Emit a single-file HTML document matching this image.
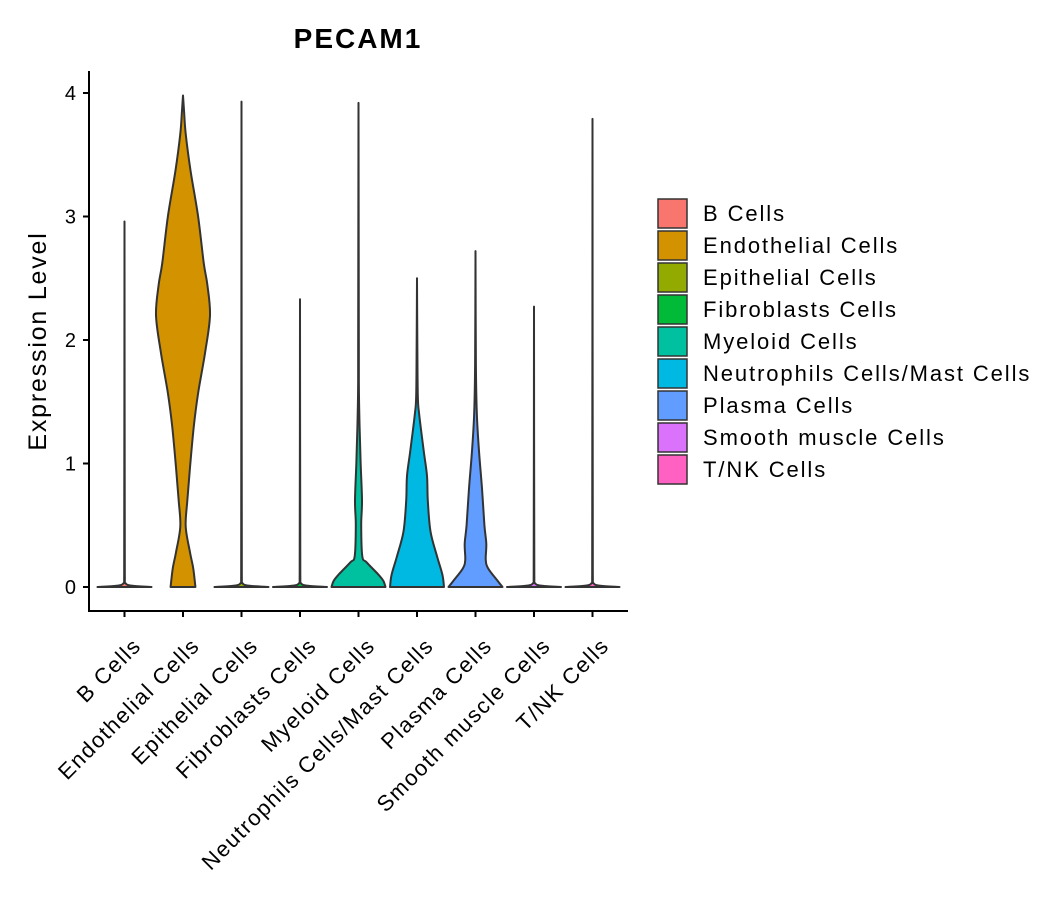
<!DOCTYPE html>
<html><head><meta charset="utf-8">
<style>
html,body{margin:0;padding:0;background:#fff;}
svg text{font-family:"Liberation Sans",sans-serif;fill:#000;}
</style></head>
<body>
<svg id="chart" width="1057" height="900" viewBox="0 0 1057 900" xmlns="http://www.w3.org/2000/svg">
<rect width="1057" height="900" fill="#fff"/>
<text x="358" y="48" text-anchor="middle" font-size="28" font-weight="bold" letter-spacing="2">PECAM1</text>
<text transform="translate(46,341) rotate(-90)" text-anchor="middle" font-size="25" letter-spacing="1.8">Expression Level</text>
<g id="plot"></g>
<g id="legend"></g>
</svg>
<script>
const categories = ["B Cells","Endothelial Cells","Epithelial Cells","Fibroblasts Cells","Myeloid Cells","Neutrophils Cells/Mast Cells","Plasma Cells","Smooth muscle Cells","T/NK Cells"];
const colors = ["#F8766D","#D39200","#93AA00","#00BA38","#00C19F","#00B9E3","#619CFF","#DB72FB","#FF61C3"];
const maxValues = [2.96,3.98,3.93,2.33,3.92,2.50,2.72,2.27,3.79];
const yTicks = [0,1,2,3,4];
// density profiles: [value, relative half-width]
const flatProfile = [[0,1.0],[0.01,0.3],[0.03,0.04],[0.1,0.012]];
const profiles = [
  flatProfile,
  [[0,0.46],[0.15,0.38],[0.28,0.26],[0.49,0.1],[0.7,0.16],[0.97,0.26],[1.3,0.4],[1.57,0.56],[1.9,0.82],[2.2,1.0],[2.45,0.9],[2.62,0.77],[3.0,0.56],[3.37,0.28],[3.67,0.1],[3.85,0.04]],
  flatProfile,
  flatProfile,
  [[0,1.0],[0.05,0.92],[0.1,0.74],[0.2,0.3],[0.25,0.14],[0.5,0.1],[0.7,0.13],[1.0,0.08],[1.3,0.04],[1.6,0.015],[2.0,0.012]],
  [[0,1.0],[0.1,0.94],[0.25,0.74],[0.45,0.5],[0.7,0.4],[0.9,0.37],[1.1,0.25],[1.4,0.08],[1.55,0.03],[2.0,0.012]],
  [[0,1.0],[0.05,0.82],[0.15,0.47],[0.22,0.38],[0.35,0.4],[0.5,0.33],[0.8,0.24],[1.1,0.13],[1.4,0.05],[1.8,0.015]],
  flatProfile,
  flatProfile
];
const X0=89, X1=628, Y0=587, UNIT=123.5, STEP=58.5, FIRSTX=124.5, MAXHW=27;
const xs = i => FIRSTX + i*STEP;
const ys = v => Y0 - v*UNIT;
const NS="http://www.w3.org/2000/svg";
const plot=document.getElementById('plot');
function mk(tag,attrs,parent){const e=document.createElementNS(NS,tag);for(const k in attrs)e.setAttribute(k,attrs[k]);parent.appendChild(e);return e;}
function smooth(pts){
  let d="";
  for(let i=0;i<pts.length-1;i++){
    const p0=pts[i-1]||pts[i],p1=pts[i],p2=pts[i+1],p3=pts[i+2]||p2;
    const c1=[p1[0]+(p2[0]-p0[0])/6,Math.min(Y0,p1[1]+(p2[1]-p0[1])/6)];
    const c2=[p2[0]-(p3[0]-p1[0])/6,Math.min(Y0,p2[1]-(p3[1]-p1[1])/6)];
    d+=` C${c1[0].toFixed(2)},${c1[1].toFixed(2)} ${c2[0].toFixed(2)},${c2[1].toFixed(2)} ${p2[0].toFixed(2)},${p2[1].toFixed(2)}`;
  }
  return d;
}
categories.forEach((c,i)=>{
  const cx=xs(i);
  const prof=profiles[i].slice();
  prof.push([maxValues[i],0]);
  const right=prof.map(p=>[cx+p[1]*MAXHW,ys(p[0])]);
  const left=prof.slice().reverse().map(p=>[cx-p[1]*MAXHW,ys(p[0])]);
  let d=`M${left[0][0]},${left[0][1]}`+smooth(left)+` L${right[0][0]},${right[0][1]}`+smooth(right)+" Z";
  const path=mk('path',{d:d,fill:colors[i],stroke:"#333333","stroke-width":2,"stroke-linejoin":"round"},plot);
  
  
});
// axes
const ya=mk('line',{x1:X0,y1:71,x2:X0,y2:611.5,stroke:"#000","stroke-width":2},plot);


const xa=mk('line',{x1:88,y1:611,x2:X1,y2:611,stroke:"#000","stroke-width":2},plot);


yTicks.forEach(t=>{
  const l=mk('line',{x1:X0-6,x2:X0,y1:ys(t),y2:ys(t),stroke:"#000","stroke-width":2},plot);
  
  
  const tx=mk('text',{x:X0-13,y:ys(t)+7,"text-anchor":"end","font-size":20},plot);
  tx.textContent=t;
  
  
});
categories.forEach((c,i)=>{
  const x=xs(i);
  const l=mk('line',{x1:x,x2:x,y1:611,y2:617,stroke:"#000","stroke-width":2},plot);
  
  
  const tx=mk('text',{transform:`translate(${x+18},${647}) rotate(-45)`,"text-anchor":"end","font-size":22,"letter-spacing":1.5},plot);
  tx.textContent=c;
  
  
});
// legend
const leg=document.getElementById('legend');
categories.forEach((c,i)=>{
  const y=198+i*32;
  const r=mk('rect',{x:658,y:y+1,width:29,height:29,fill:colors[i],stroke:"#333333","stroke-width":1.5},leg);
  
  
  const t=mk('text',{x:703,y:y+23,"font-size":22,"letter-spacing":1.9},leg);
  t.textContent=c;
  
  
});
</script>
</body></html>
